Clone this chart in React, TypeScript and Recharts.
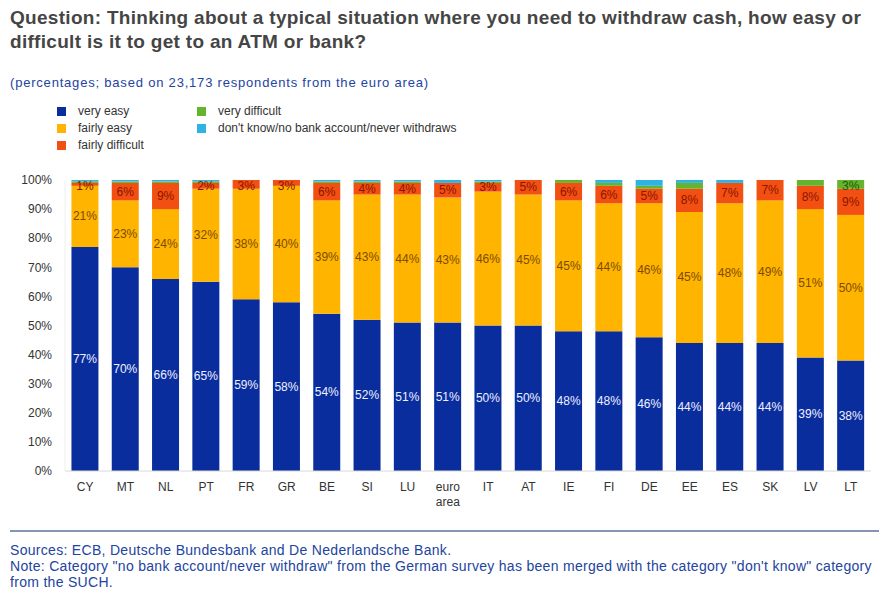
import React from 'react';
import { BarChart, Bar, XAxis, YAxis, LabelList } from 'recharts';

const countries = ['CY', 'MT', 'NL', 'PT', 'FR', 'GR', 'BE', 'SI', 'LU', 'euro area', 'IT', 'AT', 'IE', 'FI', 'DE', 'EE', 'ES', 'SK', 'LV', 'LT'];
const veryEasy = [77, 70, 66, 65, 59, 58, 54, 52, 51, 51, 50, 50, 48, 48, 46, 44, 44, 44, 39, 38];
const fairlyEasy = [21, 23, 24, 32, 38, 40, 39, 43, 44, 43, 46, 45, 45, 44, 46, 45, 48, 49, 51, 50];
const fairlyDifficult = [1, 6, 9, 2, 3, 3, 6, 4, 4, 5, 3, 5, 6, 6, 5, 8, 7, 7, 8, 9];
const veryDifficult = [0.5, 0.5, 0.5, 0.5, 0, 0, 0.5, 0.5, 0.5, 0, 0.5, 0, 1, 1, 1, 2, 0, 0, 2, 3];
const dontKnow = [0.5, 0.5, 0.5, 0.5, 0, 0, 0.5, 0.5, 0.5, 1, 0.5, 0, 0, 1, 2, 1, 1, 0, 0, 0];
const yTicks = [0, 10, 20, 30, 40, 50, 60, 70, 80, 90, 100];

const data = countries.map((c, i) => ({
  country: c,
  veryEasy: veryEasy[i],
  fairlyEasy: fairlyEasy[i],
  fairlyDifficult: fairlyDifficult[i],
  veryDifficult: veryDifficult[i],
  dontKnow: dontKnow[i],
}));

const series = [
  { key: 'veryEasy', name: 'very easy', color: '#0a2d9e', text: '#eef1ff', min: 1 },
  { key: 'fairlyEasy', name: 'fairly easy', color: '#ffb400', text: '#7d4c00', min: 1 },
  { key: 'fairlyDifficult', name: 'fairly difficult', color: '#f24f12', text: '#8a1500', min: 1 },
  { key: 'veryDifficult', name: 'very difficult', color: '#66b32e', text: '#1f5a00', min: 3 },
  { key: 'dontKnow', name: "don't know/no bank account/never withdraws", color: '#2fb3e3', text: '#0b4d6b', min: 3 },
];

const font = 'Arial, "Liberation Sans", Helvetica, sans-serif';

// only print a value when the segment is big enough to hold it
const makeLabel = (textColor: string, min: number) => (props: any) => {
  const { x, y, width, height, value } = props;
  if (value == null || value < min) return null;
  const cy = Math.max(y + height / 2, 186); // keep rounded-over-100 segments readable
  return (
    <text
      x={x + width / 2}
      y={cy}
      textAnchor="middle"
      dominantBaseline="central"
      fontSize={12}
      fontFamily={font}
      fill={textColor}
    >
      {`${value}%`}
    </text>
  );
};

const CountryTick = (props: any) => {
  const { x, y, payload } = props;
  const parts = String(payload.value).split(' ');
  return (
    <text x={x} y={y} textAnchor="middle" fontSize={12} fontFamily={font} fill="#333">
      {parts.map((p, i) => (
        <tspan key={p} x={x} dy={i === 0 ? 12 : 15}>
          {p}
        </tspan>
      ))}
    </text>
  );
};

const legendCol1 = [series[0], series[1], series[2]];
const legendCol2 = [series[3], series[4]];

const LegendItem = ({ s, left, top }: any) => (
  <div style={{ position: 'absolute', left, top, display: 'flex', alignItems: 'center', height: 14 }}>
    <div style={{ width: 9, height: 9, background: s.color, marginRight: 12 }} />
    <span style={{ fontSize: 12, color: '#333', fontFamily: font }}>{s.name}</span>
  </div>
);

export default function App() {
  return (
    <div style={{ position: 'absolute', left: 0, top: 0, width: 879, height: 597, background: '#fff', fontFamily: font }}>
      <div style={{ position: 'absolute', left: 10, top: 6, fontSize: 19, letterSpacing: 0.3, fontWeight: 'bold', color: '#454545', lineHeight: '24px', width: 875, whiteSpace: 'nowrap' }}>
        Question: Thinking about a typical situation where you need to withdraw cash, how easy or
        <br />
        difficult is it to get to an ATM or bank?
      </div>
      <div style={{ position: 'absolute', left: 10, top: 75, fontSize: 13, letterSpacing: 0.8, color: '#2244a0', whiteSpace: 'nowrap' }}>
        (percentages; based on 23,173 respondents from the euro area)
      </div>
      {legendCol1.map((s, i) => (
        <LegendItem key={s.key} s={s} left={57} top={104 + i * 17} />
      ))}
      {legendCol2.map((s, i) => (
        <LegendItem key={s.key} s={s} left={197} top={104 + i * 17} />
      ))}
      <div style={{ position: 'absolute', left: 0, top: 0 }}>
        <BarChart
          width={879}
          height={520}
          data={data}
          margin={{ top: 180, right: 8, left: 10, bottom: 9 }}
          barCategoryGap="16%"
        >
          <XAxis
            dataKey="country"
            interval={0}
            tickLine={false}
            axisLine={{ stroke: '#d8d8d8' }}
            height={40}
            tick={<CountryTick />}
          />
          <YAxis
            domain={[0, 100]}
            allowDataOverflow
            ticks={yTicks}
            tickFormatter={(v: number) => `${v}%`}
            tickLine={false}
            axisLine={{ stroke: '#eeeeee' }}
            width={55}
            tickMargin={7}
            tick={{ fontSize: 12, fill: '#333', fontFamily: font }}
          />
          {series.map((s) => (
            <Bar key={s.key} dataKey={s.key} name={s.name} stackId="a" fill={s.color} isAnimationActive={false}>
              <LabelList dataKey={s.key} content={makeLabel(s.text, s.min)} />
            </Bar>
          ))}
        </BarChart>
      </div>
      <div style={{ position: 'absolute', left: 10, top: 530, width: 869, height: 2, background: '#8795b3' }} />
      <div style={{ position: 'absolute', left: 10, top: 542, fontSize: 14, letterSpacing: 0.3, color: '#2244a0', lineHeight: '16px', width: 869, whiteSpace: 'nowrap' }}>
        Sources: ECB, Deutsche Bundesbank and De Nederlandsche Bank.
        <br />
        Note: Category "no bank account/never withdraw" from the German survey has been merged with the category "don't know" category
        <br />
        from the SUCH.
      </div>
    </div>
  );
}
